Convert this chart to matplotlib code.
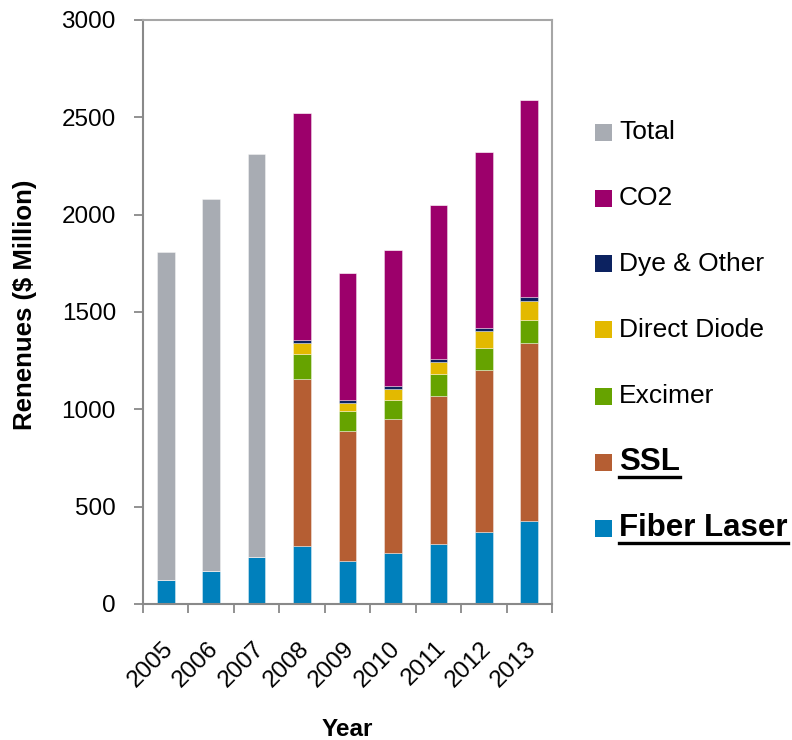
import matplotlib
matplotlib.use("Agg")
import matplotlib.pyplot as plt
import matplotlib.transforms as mtransforms
import numpy as np
from matplotlib.patches import Rectangle
from matplotlib.lines import Line2D

plt.rcParams['font.family'] = ['Liberation Sans', 'DejaVu Sans']

years = ['2005', '2006', '2007', '2008', '2009', '2010', '2011', '2012', '2013']
fiber = [125, 171, 240, 300, 223, 264, 310, 368, 427]
ssl = [0, 0, 0, 857, 668, 685, 756, 833, 913]
excimer = [0, 0, 0, 128, 103, 101, 113, 116, 121]
diode = [0, 0, 0, 56, 39, 55, 63, 83, 98]
dye = [0, 0, 0, 14, 14, 14, 16, 17, 17]
co2 = [0, 0, 0, 1165, 653, 701, 792, 903, 1014]
total_rest = [1685, 1909, 2070, 0, 0, 0, 0, 0, 0]

series = [
    ('Fiber Laser', fiber, '#0080BC'),
    ('SSL', ssl, '#B55E33'),
    ('Excimer', excimer, '#66A300'),
    ('Direct Diode', diode, '#E3B900'),
    ('Dye & Other', dye, '#0C2260'),
    ('CO2', co2, '#9C006B'),
    ('Total', total_rest, '#A8ACB3'),
]
underlined = {'SSL', 'Fiber Laser'}
bold_big = {'SSL', 'Fiber Laser'}

W, H = 792, 740
fig = plt.figure(figsize=(W / 100, H / 100), dpi=100)
ax = fig.add_axes([143 / W, 1 - 604 / H, (552 - 143) / W, (604 - 20) / H])

x = np.arange(len(years))
bottom = np.zeros(len(years))
for name, vals, col in series:
    v = np.array(vals, dtype=float)
    ax.bar(x, v, width=0.39, bottom=bottom, color=col, edgecolor=(1, 1, 1, 0.45),
           linewidth=0.6, zorder=2)
    bottom += v

ax.set_xlim(-0.5, len(years) - 0.5)
ax.set_ylim(0, 3000)
ax.set_yticks(np.arange(0, 3001, 500))
ax.tick_params(axis='y', direction='out', length=6.5, width=1.3, color='#898989',
               labelsize=17.5, pad=13)
ax.set_xticks(x)
ax.set_xticklabels(years, rotation=45, ha='right', rotation_mode='anchor', fontsize=17.5)
ax.tick_params(axis='x', which='major', length=0, pad=24)
ax.set_xticks(np.arange(-0.5, len(years), 1.0), minor=True)
ax.tick_params(axis='x', which='minor', direction='out', length=6.5, width=1.3, color='#898989')
offset = mtransforms.ScaledTranslation(-4 / 100, 0, fig.dpi_scale_trans)
for lab in ax.get_xticklabels():
    lab.set_transform(lab.get_transform() + offset)

for s in ['left', 'bottom']:
    ax.spines[s].set_color('#898989')
    ax.spines[s].set_linewidth(1.5)
for s in ['top', 'right']:
    ax.spines[s].set_color('#A6A6A6')
    ax.spines[s].set_linewidth(1.5)

fig.text(25 / W, 1 - 305 / H, 'Renenues ($ Million)', rotation=90, ha='center', va='center',
         fontsize=18.5, fontweight='bold')
fig.text(347 / W, 1 - 729 / H, 'Year', ha='center', va='center', fontsize=17.5, fontweight='bold')

# manual legend
legend_items = list(reversed(series))
fig.canvas.draw()
renderer = fig.canvas.get_renderer()
for i, (name, vals, col) in enumerate(legend_items):
    yc = 132 + 66 * i
    fig.patches.append(Rectangle((595 / W, 1 - (yc + 8.5) / H), 17 / W, 17 / H,
                                 transform=fig.transFigure, facecolor=col, edgecolor='none'))
    if name in bold_big:
        t = fig.text(619 / W, 1 - yc / H, name, ha='left', va='center', fontsize=22.5,
                     fontweight='bold')
    else:
        t = fig.text(619 / W, 1 - yc / H, name, ha='left', va='center', fontsize=19)
    if name in underlined:
        bb = t.get_window_extent(renderer=renderer)
        yl = 1 - (yc + 15) / H
        fig.add_artist(Line2D([bb.x0 / W, bb.x1 / W], [yl, yl], transform=fig.transFigure,
                              color='black', linewidth=2.4))

fig.savefig('out.png', dpi=100)
